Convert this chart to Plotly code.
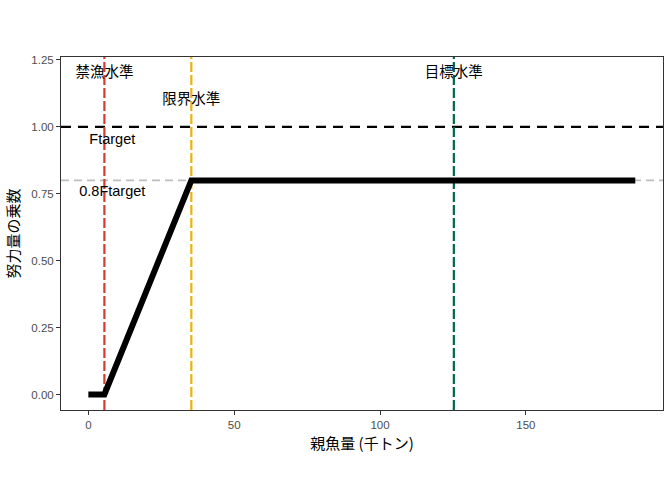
import plotly.graph_objects as go

# Data
ssb = [0, 5.5, 35.3, 187.5]
multiplier = [0, 0, 0.8, 0.8]
ban_level = 5.5
limit_level = 35.3
target_level = 125.3
ftarget = 1.0
ftarget08 = 0.8
label_names = ["禁漁水準", "限界水準", "目標水準"]
label_x = [ban_level, limit_level, target_level]
label_y = [1.2, 1.1, 1.2]
ref_labels = ["Ftarget", "0.8Ftarget"]
ref_label_x = [8.2, 8.2]
ref_label_y = [0.95, 0.755]
y_ticks = [0, 0.25, 0.5, 0.75, 1.0, 1.25]
x_ticks = [0, 50, 100, 150]

FONT = "Liberation Sans, Noto Sans CJK JP, sans-serif"
JFONT = "Noto Sans CJK JP, Liberation Sans, sans-serif"

xr = [-9.38, 197.0]
yr = [-0.058, 1.261]

fig = go.Figure()

# reference horizontal lines
fig.add_trace(go.Scatter(x=xr, y=[ftarget08, ftarget08], mode="lines",
                         line=dict(color="#bdbdbd", width=1.6, dash="8px,5px"),
                         hoverinfo="skip", showlegend=False))
fig.add_trace(go.Scatter(x=xr, y=[ftarget, ftarget], mode="lines",
                         line=dict(color="black", width=2.4, dash="10px,7px"),
                         hoverinfo="skip", showlegend=False))

# vertical level lines
for xv, col in zip(label_x, ["#D63B2F", "#EDB20E", "#00674B"]):
    fig.add_trace(go.Scatter(x=[xv, xv], y=yr, mode="lines",
                             line=dict(color=col, width=2.2, dash="10px,3px"),
                             hoverinfo="skip", showlegend=False))

# HCR curve
fig.add_trace(go.Scatter(x=ssb, y=multiplier, mode="lines",
                         line=dict(color="black", width=6),
                         showlegend=False))

# labels
fig.add_trace(go.Scatter(x=label_x, y=label_y, mode="text", text=label_names,
                         textposition="middle center",
                         textfont=dict(family=JFONT, size=14.5, color="black"),
                         showlegend=False, hoverinfo="skip"))
fig.add_trace(go.Scatter(x=ref_label_x, y=ref_label_y, mode="text", text=ref_labels,
                         textposition="middle center",
                         textfont=dict(family=FONT, size=14.5, color="black"),
                         showlegend=False, hoverinfo="skip"))

fig.update_layout(
    width=672, height=480,
    margin=dict(l=61, r=9, t=57, b=70),
    plot_bgcolor="white", paper_bgcolor="white",
    font=dict(family=FONT),
)
fig.update_xaxes(range=xr, tickvals=x_ticks, showgrid=False, zeroline=False,
                 ticks="outside", ticklen=4, tickcolor="#333333", tickwidth=1,
                 tickfont=dict(size=11.5, color="#4d4d4d", family=FONT),
                 showline=True, linecolor="#333333", linewidth=1, mirror=True,
                 title=dict(text="親魚量 (千トン)", font=dict(size=15, color="black", family=JFONT), standoff=8))
fig.update_yaxes(range=yr, tickvals=y_ticks, tickformat=".2f", showgrid=False, zeroline=False,
                 ticks="outside", ticklen=4, tickcolor="#333333", tickwidth=1,
                 tickfont=dict(size=11.5, color="#4d4d4d", family=FONT),
                 showline=True, linecolor="#333333", linewidth=1, mirror=True,
                 title=dict(text="努力量の乗数", font=dict(size=15, color="black", family=JFONT), standoff=8))

fig.write_html("out.html")
